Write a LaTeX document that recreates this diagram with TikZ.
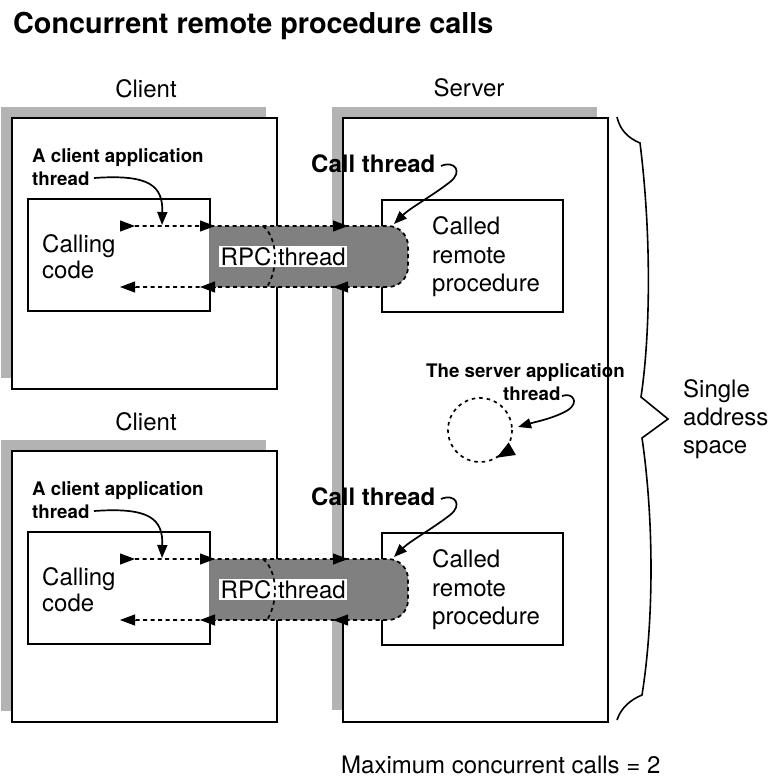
\documentclass[tikz,border=0pt]{standalone}
\usepackage{fontspec}
\setmainfont{TeX Gyre Heros}
\usetikzlibrary{arrows.meta}
\definecolor{shadowgray}{HTML}{B3B3B3}
\definecolor{bandgray}{HTML}{808080}
\tikzset{
  boxnode/.style={draw, line width=1.6pt, fill=white, rectangle, inner sep=0pt, anchor=north west},
  txt/.style={inner sep=0pt, anchor=base west, font=\fontsize{24}{28}\selectfont},
  ctxt/.style={inner sep=0pt, anchor=base, font=\fontsize{24}{28}\selectfont},
  smallbold/.style={inner sep=0pt, anchor=base west, font=\fontsize{18.7}{22}\selectfont\bfseries},
  bigbold/.style={inner sep=0pt, anchor=base west, font=\fontsize{24}{28}\selectfont\bfseries},
  threadline/.style={line width=1.7pt, dash pattern=on 4pt off 3.5pt},
  tipline/.style={line width=1pt, -{Triangle[length=15pt,width=11pt]}},
  pointer/.style={line width=1.7pt, -{Triangle[length=13pt,width=10pt]}},
  bracestyle/.style={line width=1.6pt, line join=miter},
}
\newcommand{\rpcgroup}{%
  % client box with shadow
  \fill[shadowgray] (1,107) rectangle (266,378);
  \node[boxnode, minimum width=265pt, minimum height=271pt] (client) at (11,117) {};
  \node[ctxt] (clientlabel) at (146,97) {Client};
  % calling code
  \node[boxnode, minimum width=182pt, minimum height=112pt] (caller) at (27,198) {};
  \node[txt] (calling) at (42,252) {Calling};
  \node[txt] (code) at (42,278) {code};
  \node[smallbold] (appA) at (32,162) {A client application};
  \node[smallbold] (appB) at (32,185) {thread};
  % called remote procedure
  \node[boxnode, minimum width=181pt, minimum height=112pt] (called) at (381,199) {};
  \node[txt] (calledA) at (432,234) {Called};
  \node[txt] (calledB) at (432,263) {remote};
  \node[txt] (calledC) at (432,291) {procedure};
  \node[bigbold] (callthread) at (311,172) {Call thread};
  % RPC thread band
  \fill[bandgray] (209,226) -- (388,226) .. controls (399,226) and (408,235) .. (408,246)
     -- (408,267) .. controls (408,278) and (399,287) .. (388,287) -- (209,287) -- cycle;
  \coordinate (pathstart) at (135,226);
  \coordinate (pathend) at (134,287);
  \draw[threadline] (pathstart) -- (388,226) .. controls (399,226) and (408,235) .. (408,246)
     -- (408,267) .. controls (408,278) and (399,287) .. (388,287) -- (pathend);
  \node[inner sep=1.5pt, fill=white, anchor=base west, font=\fontsize{24}{28}\selectfont] (rpc) at (219,265.5) {RPC thread};
  \draw[threadline] (263,226) .. controls (276,236) and (280,266) .. (267,287);
  % arrowheads along the thread
  \coordinate (t1a) at (120,226); \coordinate (t1b) at (135,226);
  \coordinate (t2a) at (200,226); \coordinate (t2b) at (215,226);
  \coordinate (t3a) at (333,226); \coordinate (t3b) at (348,226);
  \coordinate (b1a) at (135,287); \coordinate (b1b) at (120,287);
  \coordinate (b2a) at (215,287); \coordinate (b2b) at (200,287);
  \coordinate (b3a) at (348,287); \coordinate (b3b) at (333,287);
  \draw[tipline] (t1a) -- (t1b);
  \draw[tipline] (t2a) -- (t2b);
  \draw[tipline] (t3a) -- (t3b);
  \draw[tipline] (b1a) -- (b1b);
  \draw[tipline] (b2a) -- (b2b);
  \draw[tipline] (b3a) -- (b3b);
  % pointers
  \coordinate (apptip) at (162,225);
  \coordinate (calltip) at (394,224);
  \draw[pointer] (94,178) .. controls (150,174) and (163,186) .. (apptip);
  \draw[pointer] (441,166) .. controls (455,160) and (463,172) .. (450,182)
     .. controls (432,196) and (410,208) .. (calltip);
}
\begin{document}
\begin{tikzpicture}[x=1pt, y=-1pt]
\useasboundingbox (0,0) rectangle (771,780);
\node[inner sep=0pt, anchor=base west, font=\fontsize{28.8}{34}\selectfont\bfseries] (title) at (13,33) {Concurrent remote procedure calls};
% server box
\fill[shadowgray] (332,107) rectangle (597,710);
\node[boxnode, minimum width=265pt, minimum height=604pt] (server) at (342,117) {};
\node[ctxt] (serverlabel) at (469,96) {Server};
% two groups
\begin{scope}[name prefix=top-]
\rpcgroup
\end{scope}
\begin{scope}[yshift=-333pt, name prefix=bot-]
\rpcgroup
\end{scope}
% server application thread
\node[smallbold] (srvA) at (426,377) {The server application};
\node[smallbold] (srvB) at (503,400) {thread};
\draw[threadline, dash pattern=on 3.5pt off 4pt] (480,430) circle[radius=32];
\coordinate (circtip) at (496,457.7);
\draw[line width=1.7pt, -{Triangle[length=18pt,width=14pt]}] (508.4,446) arc[start angle=30, end angle=60, radius=32];
\coordinate (srvtip) at (518,427);
\draw[pointer] (562,396) .. controls (572,392) and (580,402) .. (568,410)
   .. controls (555,418) and (535,422) .. (srvtip);
% brace
\draw[bracestyle] (617,117) .. controls (620,130) and (628,138) .. (640,143)
   .. controls (651,230) and (651,330) .. (641,397) -- (668,419) -- (642,438)
   .. controls (654,520) and (654,620) .. (642,695)
   .. controls (630,700) and (621,708) .. (617,720);
\node[txt] (single) at (683,397) {Single};
\node[txt] (address) at (683,425) {address};
\node[txt] (space) at (683,453) {space};
\node[txt] (maxcalls) at (341,773) {Maximum concurrent calls = 2};
\end{tikzpicture}
\end{document}
